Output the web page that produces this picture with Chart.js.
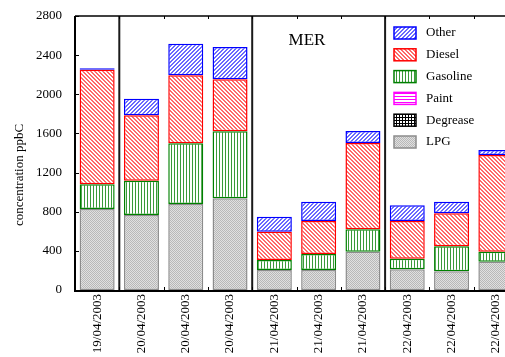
<!DOCTYPE html>
<html>
<head>
<meta charset="utf-8">
<script src="https://cdn.jsdelivr.net/npm/chart.js@4.4.0/dist/chart.umd.min.js"></script>
<style>
  html, body { margin: 0; padding: 0; background: #fff; overflow: hidden; }
  #wrap { width: 505px; height: 357px; overflow: hidden; }
</style>
</head>
<body>
<div id="wrap"><canvas id="myChart" width="540" height="357"></canvas></div>
<script>
// data (ppbC, stacked from the bottom)
const dates = ["19/04/2003", "20/04/2003", "20/04/2003", "20/04/2003",
  "21/04/2003", "21/04/2003", "21/04/2003", "22/04/2003", "22/04/2003", "22/04/2003"];
const lpg      = [828, 766, 879, 937, 204, 204, 392, 211, 191, 289];
const degrease = [0, 0, 0, 0, 0, 0, 0, 0, 0, 0];
const paint    = [0, 0, 0, 0, 0, 0, 0, 0, 0, 0];
const gasoline = [252, 351, 620, 685, 103, 164, 228, 109, 255, 103];
const diesel   = [1171, 668, 695, 531, 289, 337, 882, 385, 338, 988];
const other    = [14, 170, 323, 330, 153, 198, 123, 160, 119, 51];
const yTicks   = [0, 400, 800, 1200, 1600, 2000, 2400, 2800];

const serif = "'Liberation Serif', 'Times New Roman', serif";

// small hatch tiles
function makePattern(kind, color) {
  const c = document.createElement("canvas");
  const n = kind === "vert" || kind === "horiz" || kind === "grid" ? 3 : (kind === "dots" ? 2 : 4);
  c.width = n; c.height = n;
  const g = c.getContext("2d");
  g.fillStyle = "#fff";
  g.fillRect(0, 0, n, n);
  g.fillStyle = color;
  if (kind === "back") {
    for (let i = 0; i < 4; i++) { g.fillRect(i, i, 1, 1); g.fillRect(i, (i + 1) % 4, 1, 1); }
  } else if (kind === "fwd") {
    for (let i = 0; i < 4; i++) { g.fillRect(i, 3 - i, 1, 1); g.fillRect(i, (4 - i) % 4, 1, 1); }
  } else if (kind === "vert") {
    g.fillRect(0, 0, 1, 3);
  } else if (kind === "horiz") {
    g.fillRect(0, 0, 3, 1);
  } else if (kind === "grid") {
    g.fillRect(0, 0, 3, 1); g.fillRect(0, 0, 1, 3);
  } else if (kind === "dots") {
    g.fillStyle = "#e0e0e0"; g.fillRect(0, 0, 2, 2);
    g.fillStyle = color; g.fillRect(0, 0, 1, 1); g.fillRect(1, 1, 1, 1);
  }
  return g.createPattern(c, "repeat");
}

const series = [
  { label: "LPG", data: lpg, fill: makePattern("dots", "#b8b8b8"), line: "#8c8c8c" },
  { label: "Degrease", data: degrease, fill: makePattern("grid", "#000"), line: "#000" },
  { label: "Paint", data: paint, fill: makePattern("horiz", "#ff00ff"), line: "#ff00ff" },
  { label: "Gasoline", data: gasoline, fill: makePattern("vert", "#3a9a3a"), line: "#008000" },
  { label: "Diesel", data: diesel, fill: makePattern("back", "#ff6a6a"), line: "#ff0000" },
  { label: "Other", data: other, fill: makePattern("fwd", "#6a6aff"), line: "#0000ff" },
];

// frame, separators, ticks, legend and texts
const decor = {
  id: "decor",
  afterDatasetsDraw(chart) {
    const { ctx, chartArea: a, scales: { x, y } } = chart;
    ctx.save();

    // group separators
    ctx.lineWidth = 2;
    ctx.strokeStyle = "#1a1a1a";
    [0, 3, 6, 9].forEach((i) => {
      const px = (x.getPixelForValue(i) + x.getPixelForValue(i + 1)) / 2;
      ctx.beginPath(); ctx.moveTo(px, a.top); ctx.lineTo(px, a.bottom); ctx.stroke();
    });

    // axes
    ctx.strokeStyle = "#000";
    ctx.lineWidth = 2;
    ctx.beginPath();
    ctx.moveTo(a.left, a.top); ctx.lineTo(a.left, a.bottom + 1); ctx.lineTo(a.right, a.bottom + 1);
    ctx.stroke();
    ctx.lineWidth = 1.5;
    ctx.beginPath(); ctx.moveTo(a.left, a.top); ctx.lineTo(a.right, a.top); ctx.stroke();

    // inward ticks
    ctx.lineWidth = 1;
    yTicks.forEach((v) => {
      const py = Math.round(y.getPixelForValue(v)) + 0.5;
      ctx.beginPath(); ctx.moveTo(a.left, py); ctx.lineTo(a.left + 4, py); ctx.stroke();
    });
    for (let i = 0; i < dates.length; i++) {
      const px = Math.round((x.getPixelForValue(i) + x.getPixelForValue(i + 1)) / 2) + 0.5;
      ctx.beginPath(); ctx.moveTo(px, a.top); ctx.lineTo(px, a.top + 3); ctx.stroke();
      ctx.beginPath(); ctx.moveTo(px, a.bottom); ctx.lineTo(px, a.bottom - 3); ctx.stroke();
    }

    // legend
    ctx.font = "13px " + serif;
    ctx.textBaseline = "middle";
    ctx.textAlign = "left";
    const order = ["Other", "Diesel", "Gasoline", "Paint", "Degrease", "LPG"];
    order.forEach((name, k) => {
      const s = series.find((d) => d.label === name);
      const cy = 33 + k * 21.8;
      ctx.fillStyle = s.fill;
      ctx.fillRect(394, cy - 6, 22, 12);
      ctx.strokeStyle = s.line;
      ctx.lineWidth = 1.5;
      ctx.strokeRect(394, cy - 6, 22, 12);
      ctx.fillStyle = "#000";
      ctx.fillText(name, 426, cy);
    });

    // MER
    ctx.font = "17px " + serif;
    ctx.textAlign = "center";
    ctx.textBaseline = "alphabetic";
    ctx.fillText("MER", 307, 45);

    // y title
    ctx.font = "13px " + serif;
    ctx.translate(20, 175);
    ctx.rotate(-Math.PI / 2);
    ctx.textBaseline = "middle";
    ctx.fillText("concentration ppbC", 0, 0);
    ctx.restore();
  },
};

const ctx = document.getElementById("myChart");

const chart = new Chart(ctx, {
  type: "bar",
  data: {
    labels: dates,
    datasets: series.map((s) => ({
      label: s.label,
      data: s.data,
      backgroundColor: s.fill,
      borderColor: s.line,
      borderWidth: s.data.some((v) => v > 0) ? 1.5 : 0,
      borderSkipped: false,
      barPercentage: 0.79,
      categoryPercentage: 1,
    })),
  },
  options: {
    responsive: false,
    animation: false,
    layout: { padding: { left: 0, top: 16, right: 22, bottom: 0 } },
    plugins: { legend: { display: false }, tooltip: { enabled: false } },
    scales: {
      x: {
        stacked: true,
        grid: { display: false, drawTicks: false },
        border: { display: false },
        ticks: {
          color: "#000",
          font: { family: serif, size: 13 },
          minRotation: 90,
          maxRotation: 90,
          autoSkip: false,
          padding: 4,
        },
        afterFit: (s) => { s.height = 67; s.paddingLeft = 0; s.paddingRight = 0; },
      },
      y: {
        stacked: true,
        min: 0,
        max: 2800,
        grid: { display: false, drawTicks: false },
        border: { display: false },
        ticks: {
          stepSize: 400,
          color: "#000",
          font: { family: serif, size: 13 },
          padding: 13,
          callback: (v) => String(v),
        },
        afterFit: (s) => { s.width = 75; s.paddingTop = 0; s.paddingBottom = 0; },
      },
    },
  },
  plugins: [decor],
});
</script>
</body>
</html>
